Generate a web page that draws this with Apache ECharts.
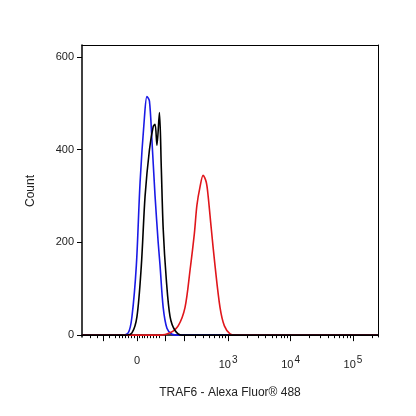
<!DOCTYPE html><html><head><meta charset="utf-8"><script src="https://cdn.jsdelivr.net/npm/echarts@6/dist/echarts.min.js"></script></head><body style="margin:0;background:#fff"><div id="c" style="width:416px;height:416px"></div><script>
const blueX=[0.66,1.27,1.40,1.46,1.53,1.59,1.66,1.70,1.74,1.78,1.83,1.88,1.91,1.96,2.02,2.10,2.20,5.4];
const blueY=[0,0,5,40,150,330,470,515,505,420,300,200,150,60,15,2,0,0];
const blackX=[0.66,1.35,1.46,1.54,1.61,1.67,1.74,1.80,1.83,1.86,1.90,1.93,1.96,2.01,2.07,2.15,2.26,5.4];
const blackY=[0,0,5,40,150,300,400,450,455,410,480,360,230,120,40,10,0,0];
const redX=[0.66,1.91,2.07,2.20,2.31,2.39,2.46,2.50,2.55,2.60,2.65,2.68,2.73,2.79,2.87,2.94,3.03,3.13,5.4];
const redY=[0,0,5,20,60,140,220,280,320,345,330,300,230,150,60,20,3,0,0];
const xLabelPos=[1.54,3,4,5];
const xLabelText=['0','10{s|3}','10{s|4}','10{s|5}'];
const yTicks=[0,200,400,600];
const majorTicks=[1.0,1.54,2.0,2.3,3,4,5];
const minorTicks=[];
[3,4].forEach(d=>{for(let k=2;k<10;k++)minorTicks.push(d+Math.log10(k));});
[0.8,0.9,1.1,1.2,1.25,1.3,1.35,1.4,1.45,1.5,1.58,1.62,1.66,1.7,1.75,1.8,1.85,1.9,2.3,2.48,2.6,2.7,2.78,2.85,2.9,2.95,5.3].forEach(v=>minorTicks.push(v));
const zip=(a,b)=>a.map((v,i)=>[v,b[i]]);
const ch=echarts.init(document.getElementById('c'));
const txt={color:'#222',fontFamily:'Arial, Liberation Sans',fontSize:11};
ch.setOption({animation:false,
grid:{left:82,right:38,top:45,bottom:79},
xAxis:[{type:'value',min:0.66,max:5.4,axisLine:{lineStyle:{color:'#000',width:1.5}},splitLine:{show:false},
 axisTick:{customValues:majorTicks,length:6,inside:false,lineStyle:{color:'#000'}},
 axisLabel:{customValues:xLabelPos,margin:18,formatter:v=>{const i=xLabelPos.findIndex(p=>Math.abs(p-v)<1e-6);return i<0?'':xLabelText[i];},...txt,rich:{s:{fontSize:10,verticalAlign:'bottom',padding:[0,0,10,1],fontFamily:'Arial, Liberation Sans',color:'#222'}}},
 name:'TRAF6 - Alexa Fluor® 488',nameLocation:'middle',nameGap:50,nameTextStyle:{...txt,fontSize:12}},
 {type:'value',position:'bottom',min:0.66,max:5.4,axisLine:{show:false},splitLine:{show:false},axisLabel:{show:false},
 axisTick:{customValues:minorTicks,length:3,lineStyle:{color:'#000'}}},
 {type:'value',position:'top',min:0.66,max:5.4,axisLine:{show:true,lineStyle:{color:'#000',width:1}},axisTick:{show:false},axisLabel:{show:false},splitLine:{show:false}}],
yAxis:[{type:'value',min:-4,max:626,axisLine:{show:true,lineStyle:{color:'#000',width:1.5}},splitLine:{show:false},
 axisTick:{customValues:yTicks,length:5,lineStyle:{color:'#000'}},axisLabel:{customValues:yTicks,margin:8,...txt},
 name:'Count',nameLocation:'middle',nameGap:45,nameTextStyle:{...txt,fontSize:12}},
 {type:'value',position:'right',min:-4,max:626,axisLine:{show:true,lineStyle:{color:'#000',width:1}},axisTick:{show:false},axisLabel:{show:false},splitLine:{show:false}}],
series:[
 {type:'line',data:zip(redX,redY),smooth:0.3,showSymbol:false,lineStyle:{color:'#e0161b',width:1.6},z:3},
 {type:'line',data:zip(blackX,blackY),smooth:0.3,showSymbol:false,lineStyle:{color:'#000',width:1.6},z:4},
 {type:'line',data:zip(blueX,blueY),smooth:0.3,showSymbol:false,lineStyle:{color:'#1a1ae6',width:1.6},z:2}
]});
</script></body></html>
